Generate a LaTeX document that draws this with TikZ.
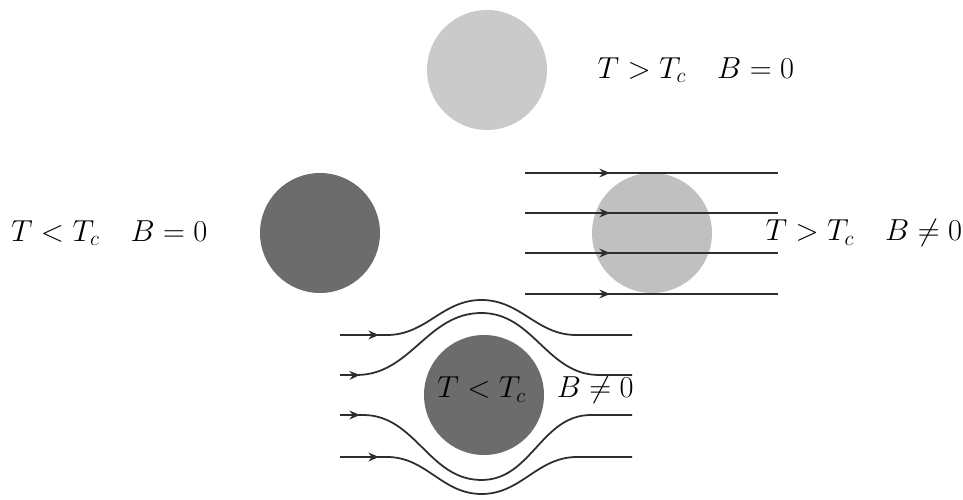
\documentclass[tikz,border=0pt]{standalone}
\usepackage{amsmath,amssymb}
\usepackage{tikz}
\usetikzlibrary{arrows.meta, positioning, calc, decorations.markings}
\usepackage{xcolor}
\definecolor{cHot}{RGB}{202,202,202}
\definecolor{cHotField}{RGB}{192,192,192}
\definecolor{cCold}{RGB}{108,108,108}
\definecolor{cLine}{RGB}{45,45,45}
\tikzset{
  ball/.style={circle, minimum size=2.4cm, inner sep=0pt, draw=none},
  hotball/.style={ball, fill=cHot},
  coldball/.style={ball, fill=cCold},
  labelnode/.style={inner sep=0pt, font=\fontsize{17.5}{20}\selectfont},
  flowline/.style={line width=1pt, draw=cLine, postaction={decorate},
                   decoration={markings,
                     mark=at position #1 with {\arrow{Stealth[length=6pt,width=5pt]}}}},
  flowline/.default=1.7cm
}

\begin{document}
\begin{tikzpicture}
  \useasboundingbox (0,0) rectangle (19.26,10);

  % Balls
  \node[hotball] (hot) at (9.74,8.6) {};
  \node[coldball] (cold) at (6.4,5.34) {};
  \node[hotball, fill=cHotField] (hotB) at (13.04,5.34) {};
  \node[coldball] (coldB) at (9.68,2.1) {};

  % Labels
  \node[labelnode, right=1.0cm of hot] (hotlbl) {$T>T_c\quad B=0$};
  \node[labelnode, left=1.04cm of cold] (coldlbl) {$T<T_c\quad B=0$};
  \node[labelnode, right=1.06cm of hotB] (hotBlbl) {$T>T_c\quad B\neq 0$};
  \node[labelnode, anchor=west] (coldBlbl) at (8.74,2.2) {$T<T_c\quad B\neq 0$};

  % Field passing through the normal ball
  \draw[flowline] ($(hotB)+(-2.54,1.2)$) -- ($(hotB)+(2.52,1.2)$);
  \draw[flowline] ($(hotB)+(-2.54,0.4)$) -- ($(hotB)+(2.52,0.4)$);
  \draw[flowline] ($(hotB)+(-2.54,-0.4)$) -- ($(hotB)+(2.52,-0.4)$);
  \draw[flowline] ($(hotB)+(-2.54,-1.22)$) -- ($(hotB)+(2.52,-1.22)$);

  % Field expelled from the superconducting ball
  \draw[flowline=0.78cm] ($(coldB)+(-2.88,1.2)$) -- ($(coldB)+(-1.94,1.2)$)
      to[out=0,in=180] ($(coldB)+(-0.05,1.9)$)
      to[out=0,in=180] ($(coldB)+(1.84,1.2)$) -- ($(coldB)+(2.96,1.2)$);
  \draw[flowline=0.4cm] ($(coldB)+(-2.88,0.4)$) -- ($(coldB)+(-2.55,0.4)$)
      to[out=0,in=180] ($(coldB)+(-0.05,1.64)$)
      to[out=0,in=180] ($(coldB)+(2.3,0.4)$) -- ($(coldB)+(2.96,0.4)$);
  \draw[flowline=0.4cm] ($(coldB)+(-2.88,-0.4)$) -- ($(coldB)+(-2.42,-0.4)$)
      to[out=0,in=180] ($(coldB)+(-0.05,-1.7)$)
      to[out=0,in=180] ($(coldB)+(2.14,-0.4)$) -- ($(coldB)+(2.96,-0.4)$);
  \draw[flowline=0.78cm] ($(coldB)+(-2.88,-1.24)$) -- ($(coldB)+(-1.94,-1.24)$)
      to[out=0,in=180] ($(coldB)+(-0.05,-1.98)$)
      to[out=0,in=180] ($(coldB)+(1.86,-1.24)$) -- ($(coldB)+(2.96,-1.24)$);

\end{tikzpicture}
\end{document}
